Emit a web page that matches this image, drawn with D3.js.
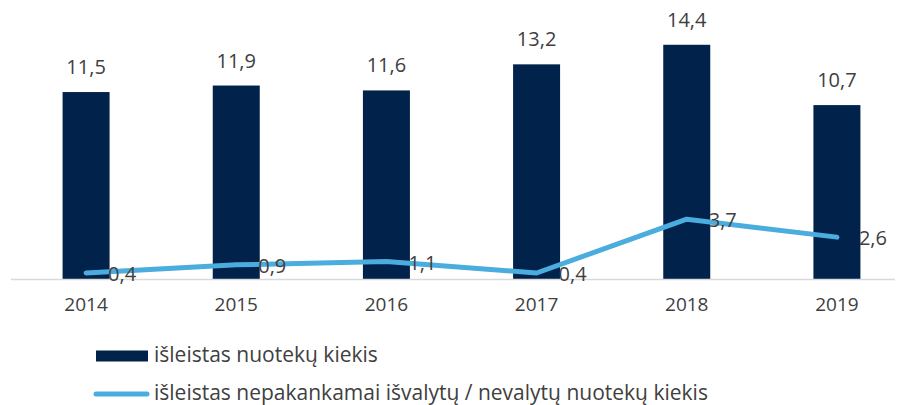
<!DOCTYPE html>
<html>
<head>
<meta charset="utf-8">
<script src="https://cdn.jsdelivr.net/npm/d3@7"></script>
<style>
  body { margin: 0; background: #fff; }
  text { font-family: "Open Sans", "Noto Sans", sans-serif; fill: #404040; }
</style>
</head>
<body>
<div id="chart"></div>
<script>
// duomenys
const years = ["2014", "2015", "2016", "2017", "2018", "2019"];
const isleistas = [11.5, 11.9, 11.6, 13.2, 14.4, 10.7];
const nepakankamai = [0.4, 0.9, 1.1, 0.4, 3.7, 2.6];
const legendLabels = ["išleistas nuotekų kiekis", "išleistas nepakankamai išvalytų / nevalytų nuotekų kiekis"];

const W = 904, H = 405;
const barColor = "#00224B", lineColor = "#4AADDD";
const fmt = v => String(v).replace(".", ",");

const svg = d3.select("#chart")
  .append("svg")
  .attr("width", W)
  .attr("height", H);

const x = d3.scaleBand()
  .domain(years)
  .range([11, 912])
  .padding(0);

const y = d3.scaleLinear()
  .domain([0, 17])
  .range([279.5, 2.4]);

const barW = 47;
const cx = d => x(d) + x.bandwidth() / 2;

// stulpeliai
svg.append("g")
  .selectAll("rect")
  .data(years)
  .join("rect")
  .attr("x", d => cx(d) - barW / 2)
  .attr("y", (d, i) => y(isleistas[i]))
  .attr("width", barW)
  .attr("height", (d, i) => y(0) - y(isleistas[i]))
  .attr("fill", barColor);

// ašis
svg.append("line")
  .attr("x1", 11).attr("x2", 895)
  .attr("y1", y(0)).attr("y2", y(0))
  .attr("stroke", "#d9d9d9")
  .attr("stroke-width", 1.5);

const xAxis = svg.append("g")
  .attr("transform", "translate(0," + y(0) + ")")
  .call(d3.axisBottom(x).tickSize(0).tickPadding(18));
xAxis.select(".domain").remove();
xAxis.selectAll("text")
  .style("font-size", "19px")
  .style("font-family", "'Open Sans', sans-serif")
  .attr("fill", "#404040");

// stulpelių reikšmės
svg.append("g")
  .selectAll("text")
  .data(years)
  .join("text")
  .attr("x", d => cx(d))
  .attr("y", (d, i) => y(isleistas[i]) - 18)
  .attr("text-anchor", "middle")
  .style("font-size", "20px")
  .text((d, i) => fmt(isleistas[i]));

// linija
const line = d3.line()
  .x((d, i) => cx(years[i]))
  .y(d => y(d));

svg.append("path")
  .datum(nepakankamai)
  .attr("d", line)
  .attr("fill", "none")
  .attr("stroke", lineColor)
  .attr("stroke-width", 5)
  .attr("stroke-linecap", "round")
  .attr("stroke-linejoin", "round");

svg.append("g")
  .selectAll("text")
  .data(nepakankamai)
  .join("text")
  .attr("x", (d, i) => cx(years[i]) + 22)
  .attr("y", d => y(d) + 1)
  .attr("dy", "0.35em")
  .style("font-size", "20px")
  .text(d => fmt(d));

// legenda
const lg = svg.append("g");
lg.append("rect")
  .attr("x", 96).attr("y", 350.5)
  .attr("width", 52).attr("height", 11)
  .attr("fill", barColor);
lg.append("line")
  .attr("x1", 96).attr("x2", 147)
  .attr("y1", 394).attr("y2", 394)
  .attr("stroke", lineColor)
  .attr("stroke-width", 5)
  .attr("stroke-linecap", "round");
lg.selectAll("text.lg")
  .data(legendLabels)
  .join("text")
  .attr("class", "lg")
  .attr("x", 154)
  .attr("y", (d, i) => i === 0 ? 355 : 392.5)
  .attr("dy", "0.35em")
  .style("font-size", "21px")
  .text(d => d);
</script>
</body>
</html>
